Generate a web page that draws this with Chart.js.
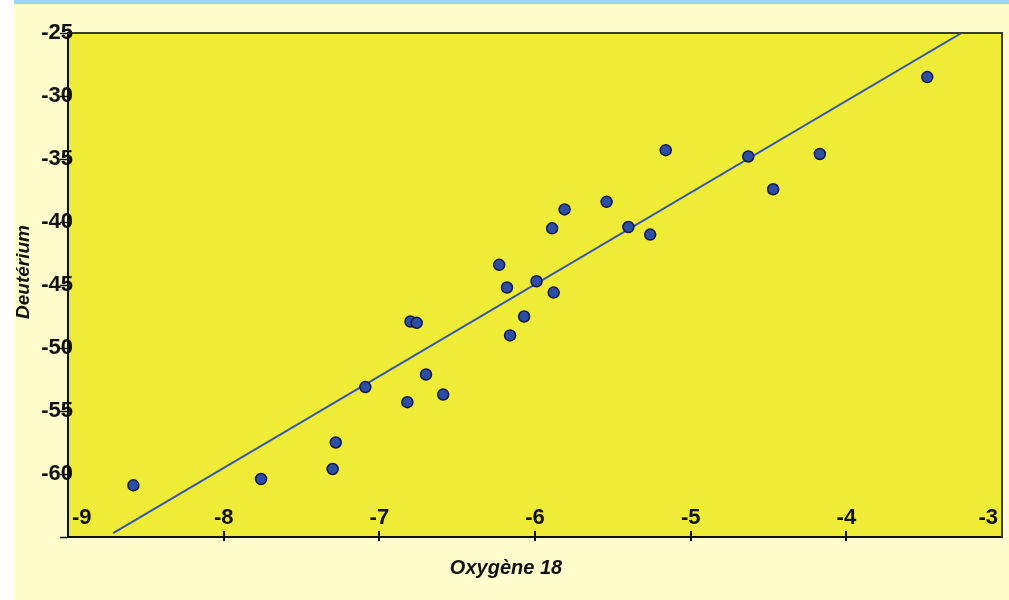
<!DOCTYPE html>
<html>
<head>
<meta charset="utf-8">
<script src="https://cdn.jsdelivr.net/npm/chart.js@4"></script>
<style>
  html, body { margin: 0; padding: 0; background: #ffffff; }
  #wrap { width: 1009px; height: 600px; }
</style>
</head>
<body>
<div id="wrap"><canvas id="isoChart" width="1009" height="600"></canvas></div>
<script>
// Oxygène 18 / Deutérium scatter with regression line

const oxygen18 = [
  -8.58, -7.76, -7.30, -7.28, -7.09, -6.82, -6.80, -6.76, -6.70, -6.59,
  -6.23, -6.18, -6.16, -6.07, -5.99, -5.89, -5.88, -5.81, -5.54, -5.40,
  -5.26, -5.16, -4.63, -4.47, -4.17, -3.48
];
const deuterium = [
  -60.9, -60.4, -59.6, -57.5, -53.1, -54.3, -47.9, -48.0, -52.1, -53.7,
  -43.4, -45.2, -49.0, -47.5, -44.7, -40.5, -45.6, -39.0, -38.4, -40.4,
  -41.0, -34.3, -34.8, -37.4, -34.6, -28.5
];

// regression line end points
const fitX = [-8.71, -3.26];
const fitY = [-64.7, -25.0];

const xTicks = [-9, -8, -7, -6, -5, -4, -3];
const yTicks = [-65, -60, -55, -50, -45, -40, -35, -30, -25];

const tickFont = 'bold 22px "Liberation Sans", Arial, sans-serif';

const pagePlugin = {
  id: 'pagePlugin',
  beforeDraw(chart) {
    const ctx = chart.ctx;
    const a = chart.chartArea;
    ctx.save();
    ctx.fillStyle = '#ffffff';
    ctx.fillRect(0, 0, chart.width, chart.height);
    ctx.fillStyle = '#fffdcc';
    ctx.fillRect(14, 4, chart.width - 14, chart.height - 4);
    ctx.fillStyle = '#9ad6f7';
    ctx.fillRect(14, 0, chart.width - 14, 4);
    ctx.fillStyle = '#efec38';
    ctx.fillRect(a.left, a.top, a.right - a.left, a.bottom - a.top);
    ctx.restore();
  },
  afterDraw(chart) {
    const ctx = chart.ctx;
    const a = chart.chartArea;
    const xs = chart.scales.x;
    const ys = chart.scales.y;
    ctx.save();
    // top and right frame
    ctx.strokeStyle = '#3a3a30';
    ctx.lineWidth = 2;
    ctx.beginPath();
    ctx.moveTo(a.left, a.top);
    ctx.lineTo(a.right, a.top);
    ctx.lineTo(a.right, a.bottom);
    ctx.stroke();
    // x tick marks crossing the axis
    ctx.strokeStyle = '#111111';
    ctx.lineWidth = 2;
    xTicks.slice(1, -1).forEach(v => {
      const px = Math.round(xs.getPixelForValue(v));
      ctx.beginPath();
      ctx.moveTo(px, a.bottom - 6);
      ctx.lineTo(px, a.bottom + 4);
      ctx.stroke();
    });
    // tick labels
    ctx.fillStyle = '#111111';
    ctx.font = tickFont;
    ctx.textBaseline = 'middle';
    xTicks.forEach((v, i) => {
      let px = xs.getPixelForValue(v);
      if (i === 0) { ctx.textAlign = 'left'; px = a.left + 4; }
      else if (i === xTicks.length - 1) { ctx.textAlign = 'right'; px = a.right - 4; }
      else ctx.textAlign = 'center';
      ctx.fillText(String(v), px, a.bottom - 19);
    });
    ctx.textAlign = 'right';
    yTicks.forEach(v => {
      if (v === -65) return;
      ctx.fillText(String(v), a.left + 5, ys.getPixelForValue(v));
    });
    // axis titles
    ctx.textAlign = 'center';
    ctx.font = 'italic bold 20px "Liberation Sans", Arial, sans-serif';
    ctx.fillText('Oxygène 18', 506, 568);
    ctx.translate(24, 272);
    ctx.rotate(-Math.PI / 2);
    ctx.font = 'italic bold 19px "Liberation Sans", Arial, sans-serif';
    ctx.fillText('Deutérium', 0, 0);
    ctx.restore();
  }
};

const ctx = document.getElementById('isoChart').getContext('2d');
new Chart(ctx, {
  data: {
    datasets: [
      {
        type: 'line',
        label: 'Droite',
        data: fitX.map((x, i) => ({ x: x, y: fitY[i] })),
        borderColor: '#3557b0',
        borderWidth: 2,
        pointRadius: 0,
        fill: false,
        order: 2
      },
      {
        type: 'scatter',
        label: 'Mesures',
        data: oxygen18.map((x, i) => ({ x: x, y: deuterium[i] })),
        backgroundColor: '#2b4ea6',
        borderColor: '#14183a',
        borderWidth: 1.5,
        pointRadius: 5.5,
        order: 1
      }
    ]
  },
  options: {
    responsive: false,
    animation: false,
    layout: { padding: { top: 33, right: 4, left: 0, bottom: 0 } },
    scales: {
      x: {
        type: 'linear',
        position: 'bottom',
        min: -9,
        max: -3,
        afterBuildTicks: scale => { scale.ticks = xTicks.map(v => ({ value: v })); },
        afterFit: scale => { scale.height = 63; },
        grid: { display: false, drawTicks: false },
        border: { display: true, color: '#111111', width: 2 },
        ticks: { display: false }
      },
      y: {
        type: 'linear',
        min: -65,
        max: -25,
        afterBuildTicks: scale => { scale.ticks = yTicks.map(v => ({ value: v })); },
        afterFit: scale => { scale.width = 68; },
        grid: { drawOnChartArea: false, drawTicks: true, tickLength: 8, color: '#111111', tickWidth: 1.5 },
        border: { display: true, color: '#111111', width: 2 },
        ticks: { display: false }
      }
    },
    plugins: {
      legend: { display: false },
      tooltip: { enabled: false }
    }
  },
  plugins: [pagePlugin]
});
</script>
</body>
</html>
